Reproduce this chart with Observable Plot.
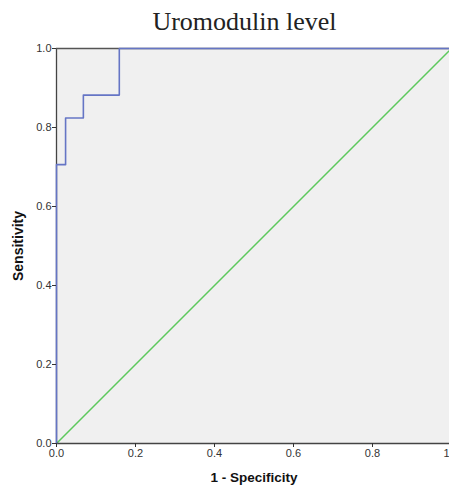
<!DOCTYPE html>
<html>
<head>
<meta charset="utf-8">
<script src="https://cdn.jsdelivr.net/npm/d3@7"></script>
<script src="https://cdn.jsdelivr.net/npm/@observablehq/plot@0.6"></script>
<style>
  body { margin: 0; background: #fff; }
  #title { height: 40px; width: 449px; font-family: "Liberation Serif", serif; font-size: 26px; color: #222; text-align: center; line-height: 44px; padding-left: 40px; box-sizing: border-box; white-space: nowrap; }
  #chart svg { display: block; }
</style>
</head>
<body>
<div id="title"></div>
<div id="chart"></div>
<script>
const title = "Uromodulin level";
const xLabel = "1 - Specificity";
const yLabel = "Sensitivity";
// ROC curve points (1 - specificity, sensitivity)
const rocFpr = [0, 0, 0.023, 0.068, 0.159, 1];
const rocTpr = [0, 0.706, 0.824, 0.882, 1, 1];
// reference diagonal
const refFpr = [0, 1];
const refTpr = [0, 1];
// ticks
const xTicks = [0, 0.2, 0.4, 0.6, 0.8, 1];
const xTickLabels = ["0.0", "0.2", "0.4", "0.6", "0.8", "1"];
const yTicks = [0, 0.2, 0.4, 0.6, 0.8, 1];
const yTickLabels = ["0.0", "0.2", "0.4", "0.6", "0.8", "1.0"];

document.getElementById("title").textContent = title;

const roc = rocFpr.map((x, i) => ({x, y: rocTpr[i]}));
const ref = refFpr.map((x, i) => ({x, y: refTpr[i]}));
const lastX = xTicks[xTicks.length - 1];

const chart = Plot.plot({
  width: 449,
  height: 445,
  marginTop: 8,
  marginBottom: 42,
  marginLeft: 56,
  marginRight: -2,
  style: {fontFamily: "'Liberation Sans', Arial, sans-serif", fontSize: "11px", color: "#333", background: "#fff"},
  x: {domain: [0, 1]},
  y: {domain: [0, 1]},
  marks: [
    Plot.frame({fill: "#f0f0f0", stroke: null}),
    Plot.line(ref, {x: "x", y: "y", stroke: "#5dc95d", strokeWidth: 1.5}),
    Plot.ruleX([0], {stroke: "#444", strokeWidth: 1.3}),
    Plot.ruleY([0], {stroke: "#444", strokeWidth: 1.3}),
    Plot.ruleY([1], {stroke: "#555", strokeWidth: 1.3}),
    Plot.line(roc, {x: "x", y: "y", curve: "step-after", stroke: "#6575c5", strokeWidth: 1.6}),
    Plot.axisX({ticks: xTicks, tickFormat: (d, i) => d === lastX ? "" : xTickLabels[i], tickSize: 4, tickPadding: 2, label: null, stroke: "#333"}),
    Plot.text([lastX], {x: d => d, text: () => xTickLabels[xTickLabels.length - 1], frameAnchor: "bottom", dy: 13, dx: -5, fill: "#333"}),
    Plot.axisY({ticks: yTicks, tickFormat: (d, i) => yTickLabels[i], tickSize: 4, tickPadding: 1, label: null, stroke: "#333"}),
    Plot.text([xLabel], {frameAnchor: "bottom", dy: 38, fontWeight: "bold", fontSize: 13.5, fill: "#111"}),
    Plot.text([yLabel], {frameAnchor: "left", textAnchor: "middle", dx: -38, rotate: -90, fontWeight: "bold", fontSize: 14, fill: "#111"})
  ]
});
document.getElementById("chart").appendChild(chart);
</script>
</body>
</html>
